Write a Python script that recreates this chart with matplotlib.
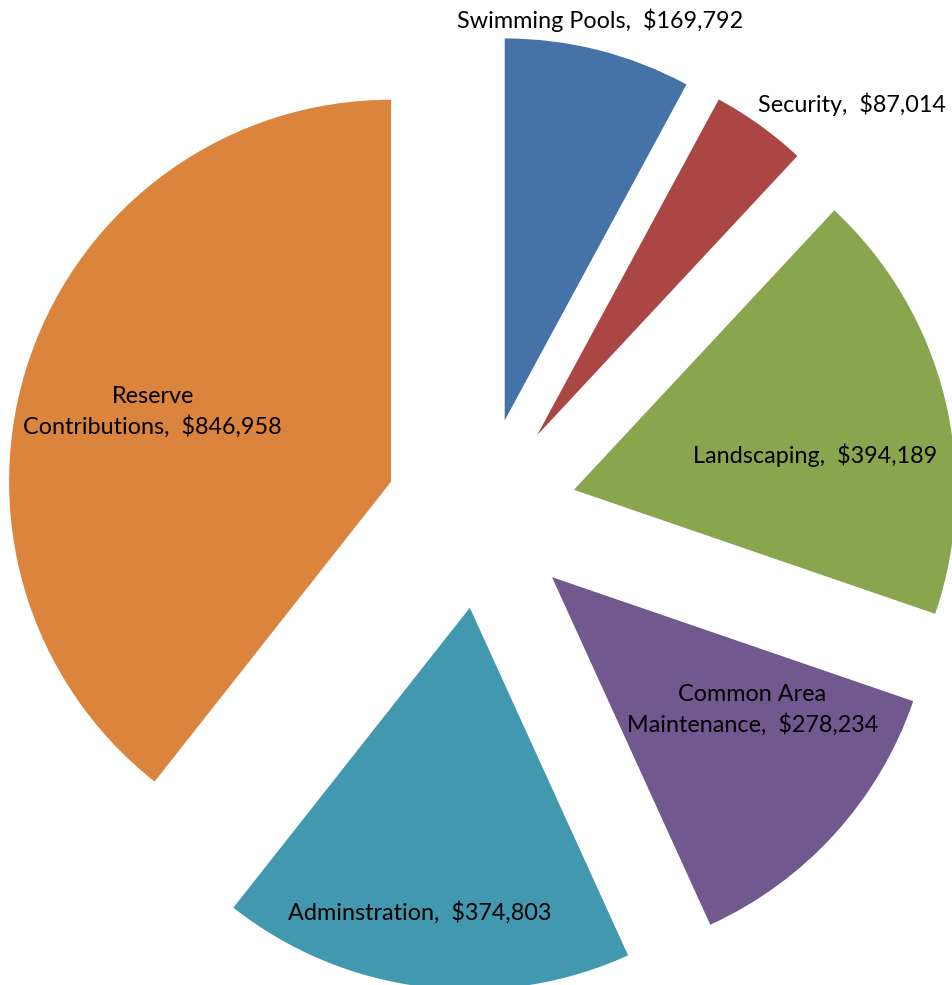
import matplotlib
matplotlib.use('Agg')
import matplotlib.pyplot as plt

# 数据：从 12 点方向顺时针
categories = ['Swimming Pools', 'Security', 'Landscaping', 'Common Area\nMaintenance',
              'Adminstration', 'Reserve\nContributions']
values = [169792, 87014, 394189, 278234, 374803, 846958]
colors = ['#4572A7', '#AA4643', '#89A54E', '#71588F', '#4198AF', '#DB843D']
# 标签位置（数据坐标，半径=1）
label_pos = [(0.31, 1.29), (0.97, 1.07), (0.875, 0.15), (0.71, -0.515),
             (-0.16, -1.045), (-0.86, 0.265)]

plt.rcParams['font.family'] = ['Lato', 'DejaVu Sans']

fig = plt.figure(figsize=(9.53, 9.85), dpi=100)
ax = fig.add_axes([0, 0, 1, 1])
ax.pie(values, colors=colors, startangle=90, counterclock=False,
       explode=[0.25] * len(values), radius=1.0,
       wedgeprops=dict(linewidth=0))
ax.set_aspect('auto')
ax.set_xlim(-1.260, 1.235)
ax.set_ylim(-1.236, 1.343)
ax.axis('off')

for name, val, (x, y) in zip(categories, values, label_pos):
    ax.text(x, y, f'{name},  ${val:,}', ha='center', va='center',
            fontsize=16.8, color='black', linespacing=1.45, multialignment='center')

fig.savefig('out.png', dpi=100)
